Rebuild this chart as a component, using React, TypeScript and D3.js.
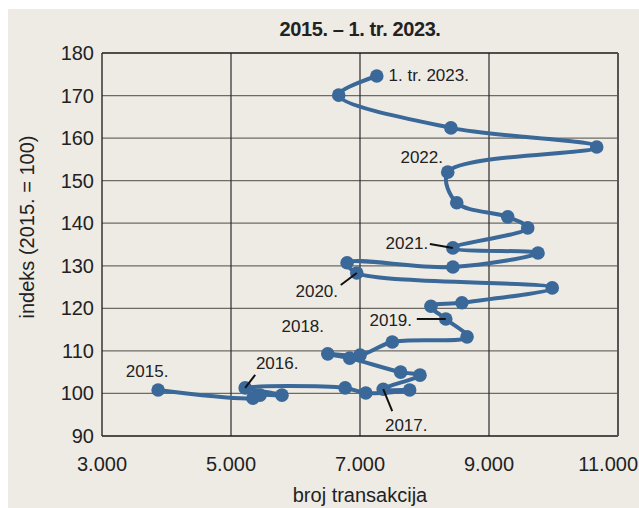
import React, { useEffect } from "react";
import * as d3 from "d3";

const quarters = [
  "2015Q1","2015Q2","2015Q3","2015Q4",
  "2016Q1","2016Q2","2016Q3","2016Q4",
  "2017Q1","2017Q2","2017Q3","2017Q4",
  "2018Q1","2018Q2","2018Q3","2018Q4",
  "2019Q1","2019Q2","2019Q3","2019Q4",
  "2020Q1","2020Q2","2020Q3","2020Q4",
  "2021Q1","2021Q2","2021Q3","2021Q4",
  "2022Q1","2022Q2","2022Q3","2022Q4",
  "2023Q1",
];
const transactions = [
  3870, 5340, 5450, 5790,
  5220, 6770, 7090, 7770,
  7360, 7930, 7630, 6840,
  6500, 7000, 7500, 8660,
  8330, 8100, 8580, 9980,
  6950, 6800, 8440, 9760,
  8440, 9600, 9290, 8500,
  8360, 10670, 8410, 6670,
  7260,
];
const priceIndex = [
  100.8, 98.9, 99.6, 99.6,
  101.3, 101.3, 100.1, 100.8,
  101.0, 104.3, 105.0, 108.3,
  109.3, 109.0, 112.1, 113.3,
  117.5, 120.5, 121.3, 124.8,
  128.3, 130.7, 129.7, 133.0,
  134.2, 138.9, 141.5, 144.8,
  152.0, 157.9, 162.4, 170.1,
  174.6,
];
const xTicks = [3000, 5000, 7000, 9000, 11000];
const yTicks = [90, 100, 110, 120, 130, 140, 150, 160, 170, 180];
const yearLabels = ["2015.", "2016.", "2017.", "2018.", "2019.", "2020.", "2021.", "2022.", "1. tr. 2023."];
const yearLabelIndex = [0, 4, 8, 12, 16, 20, 24, 28, 32];

const W = 639, H = 508;
const M = { left: 102, right: 618, top: 53, bottom: 436 };
const FONT = "'Liberation Sans Narrow', 'Liberation Sans', Arial, sans-serif";
const BLUE = "#3a6898";

const fmt = (v: number) => d3.format(",")(v).replace(/,/g, ".");

export default function App() {
  useEffect(() => {
    document.body.style.margin = "0";
  }, []);

  const x = d3.scaleLinear().domain([3000, 11000]).range([M.left, M.right]);
  const y = d3.scaleLinear().domain([90, 180]).range([M.bottom, M.top]);

  const pts = transactions.map((t, i) => [x(t), y(priceIndex[i])] as [number, number]);
  const line = d3.line<[number, number]>().curve(d3.curveCatmullRom.alpha(0.5))(pts) || "";

  const labelPos: { dx: number; dy: number; anchor: string; leader?: [number, number, number, number] }[] = [
    { dx: -11, dy: -13, anchor: "middle" },
    { dx: 32, dy: -19, anchor: "middle", leader: [10, -13, 0, 0] },
    { dx: 23, dy: 42, anchor: "middle", leader: [0, 0, 9, 22] },
    { dx: -25, dy: -22, anchor: "middle" },
    { dx: -55, dy: 7, anchor: "middle", leader: [-29, 0, 0, 0] },
    { dx: -40, dy: 24, anchor: "middle", leader: [-16, 12, 0, 0] },
    { dx: -46, dy: 1, anchor: "middle", leader: [-23, -4, 0, 0] },
    { dx: -26, dy: -9, anchor: "middle" },
    { dx: 52, dy: 5, anchor: "middle" },
  ];

  return (
    <svg width={W} height={H} style={{ display: "block" }}>
      <rect x={8} y={9} width={W - 8} height={H - 9} fill="#eeebe5" />
      <text x={360} y={36} textAnchor="middle" fontFamily={FONT} fontWeight="bold" fontSize={20} fill="#222" letterSpacing={-0.4}>
        2015. – 1. tr. 2023.
      </text>
      {yTicks.filter(t => t > 90 && t < 180).map(t => (
        <line key={"h" + t} x1={M.left} x2={M.right} y1={y(t)} y2={y(t)} stroke="#6e6a66" strokeWidth={1.3} />
      ))}
      {xTicks.filter(t => t > 3000 && t < 11000).map(t => (
        <line key={"v" + t} x1={x(t)} x2={x(t)} y1={M.top} y2={M.bottom} stroke="#2a2a2a" strokeWidth={1.2} />
      ))}
      <line x1={M.left} x2={M.right} y1={M.top} y2={M.top} stroke="#1a1a1a" strokeWidth={1.3} />
      <line x1={M.left} x2={M.right} y1={M.bottom} y2={M.bottom} stroke="#1a1a1a" strokeWidth={1.3} />
      <line x1={M.left} x2={M.left} y1={M.top} y2={M.bottom} stroke="#1a1a1a" strokeWidth={1.3} />
      <line x1={M.right} x2={M.right} y1={M.top} y2={M.bottom} stroke="#555" strokeWidth={2} />
      {yTicks.map(t => (
        <text key={"yt" + t} x={94} y={y(t) + 7} textAnchor="end" fontFamily={FONT} fontSize={20} fill="#222">
          {t}
        </text>
      ))}
      {xTicks.map((t, i) => {
        const last = i === xTicks.length - 1;
        return (
          <text key={"xt" + t} x={last ? 638 : x(t)} y={471} textAnchor={last ? "end" : "middle"} fontFamily={FONT} fontSize={20} fill="#222">
            {fmt(t)}
          </text>
        );
      })}
      <text x={360} y={502} textAnchor="middle" fontFamily={FONT} fontSize={20} fill="#222">
        broj transakcija
      </text>
      <text transform="translate(34,227) rotate(-90)" textAnchor="middle" fontFamily={FONT} fontSize={20} fill="#222">
        indeks (2015. = 100)
      </text>
      <path d={line} fill="none" stroke={BLUE} strokeWidth={4} strokeLinejoin="round" />
      {pts.map((p, i) => (
        <circle key={"c" + quarters[i]} cx={p[0]} cy={p[1]} r={6.8} fill={BLUE} />
      ))}
      {yearLabels.map((lab, k) => {
        const p = pts[yearLabelIndex[k]];
        const o = labelPos[k];
        return (
          <g key={"yl" + k}>
            {o.leader && (
              <line x1={p[0] + o.leader[0]} y1={p[1] + o.leader[1]} x2={p[0] + o.leader[2]} y2={p[1] + o.leader[3]} stroke="#111" strokeWidth={2} />
            )}
            <text x={p[0] + o.dx} y={p[1] + o.dy} textAnchor={o.anchor} fontFamily={FONT} fontSize={17} fill="#222">
              {lab}
            </text>
          </g>
        );
      })}
    </svg>
  );
}
